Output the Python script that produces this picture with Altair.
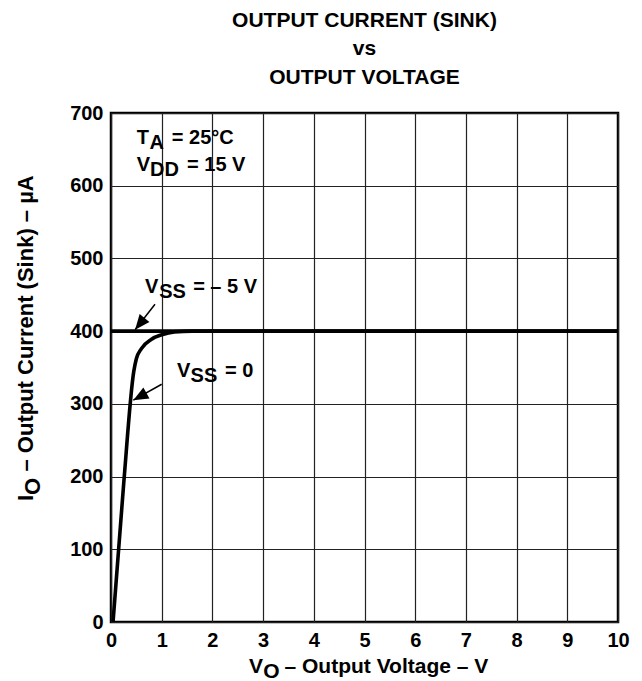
import altair as alt
import pandas as pd

# ---------------- data ----------------
x_ticks = [0, 1, 2, 3, 4, 5, 6, 7, 8, 9, 10]
y_ticks = [0, 100, 200, 300, 400, 500, 600, 700]

# V_SS = 0 curve (output voltage V, sink current uA)
vss0_v = [0.04, 0.25, 0.45, 0.50, 0.60, 0.80, 1.00, 1.25, 1.60, 2.0, 10.0]
vss0_i = [0, 190, 345, 362, 376, 389, 395, 399, 400, 400, 400]
# V_SS = -5 V curve
vss5_v = [0.0, 10.0]
vss5_i = [400, 400]

title_lines = ["OUTPUT CURRENT (SINK)", "vs", "OUTPUT VOLTAGE"]

# in-plot annotation pieces (main text and subscripts)
ann_text = ["T", "A", "= 25°C", "V", "DD", "= 15 V",
            "V", "SS", "= – 5 V", "V", "SS", "= 0"]
ann_v = [0.507, 0.76, 1.20, 0.507, 0.77, 1.50,
         0.67, 0.95, 1.62, 1.30, 1.57, 2.25]
ann_i = [658, 650, 658, 620, 613, 620,
         452, 445, 452, 337, 330.5, 337]

# arrows: tail -> tip
arr_tail_v = [0.868, 1.00]
arr_tail_i = [437, 327]
arr_tip_v = [0.475, 0.44]
arr_tip_i = [402, 305]
arr_angle = [219, 241]

FONT = "Liberation Sans"

x_scale = alt.Scale(domain=[0, 10], nice=False, zero=False)
y_scale = alt.Scale(domain=[0, 700], nice=False, zero=False)
x_axis = alt.Axis(values=x_ticks, title=None, grid=True, ticks=False,
                  domain=False, labelPadding=8, format="d", labelFlush=False)
y_axis = alt.Axis(values=y_ticks, title=None, grid=True, ticks=False,
                  domain=False, labelPadding=8, format="d", labelFlush=False)


def X(field):
    return alt.X(field, type="quantitative", scale=x_scale, axis=x_axis)


def Y(field):
    return alt.Y(field, type="quantitative", scale=y_scale, axis=y_axis)


curves = pd.DataFrame({
    "v": vss0_v + vss5_v,
    "i": vss0_i + vss5_i,
    "s": ["VSS=0"] * len(vss0_v) + ["VSS=-5"] * len(vss5_v),
})

base = alt.Chart(curves).mark_line(
    color="black", strokeWidth=3.6, interpolate="monotone", strokeCap="butt"
).encode(x=X("v"), y=Y("i"), detail="s:N")

ann_df = pd.DataFrame({"t": ann_text, "v": ann_v, "i": ann_i})
ann = alt.Chart(ann_df).mark_text(
    font=FONT, fontWeight="bold", fontSize=20, align="left",
    baseline="alphabetic", color="black"
).encode(x=X("v"), y=Y("i"), text="t:N")

arr_df = pd.DataFrame({
    "v": arr_tail_v, "i": arr_tail_i,
    "v2": arr_tip_v, "i2": arr_tip_i, "a": arr_angle,
})
arr_lines = alt.Chart(arr_df).mark_rule(color="black", strokeWidth=1.5).encode(
    x=X("v"), y=Y("i"), x2="v2:Q", y2="i2:Q",
)
arr_heads = alt.Chart(arr_df).mark_point(
    shape="M0,0L-0.42,1L0.42,1Z", filled=True, color="black", opacity=1,
    size=900, strokeWidth=0
).encode(x=X("v2"), y=Y("i2"), angle=alt.Angle("a:Q", scale=None))

layers = [base, arr_lines, arr_heads, ann]

# title lines (pixel positions relative to plot area)
title_y = [-86, -58, -29]
for line, ty in zip(title_lines, title_y):
    layers.append(
        alt.Chart(pd.DataFrame({"t": [line]})).mark_text(
            font=FONT, fontWeight="bold", fontSize=21, align="center",
            baseline="alphabetic", color="black"
        ).encode(text="t:N", x=alt.value(253.5), y=alt.value(ty))
    )

# x-axis title with subscript
xt_pieces = [("V", 138, 560), ("O", 152.3, 565), ("– Output Voltage – V", 173.5, 560)]
for t, px, py in xt_pieces:
    layers.append(
        alt.Chart(pd.DataFrame({"t": [t]})).mark_text(
            font=FONT, fontWeight="bold", fontSize=21, align="left",
            baseline="alphabetic", color="black"
        ).encode(text="t:N", x=alt.value(px), y=alt.value(py))
    )

# y-axis title (rotated) with subscript
yt_pieces = [("I", -77.7, 388), ("O", -71.5, 381.9), ("– Output Current (Sink) – µA", -77.7, 358.5)]
for t, px, py in yt_pieces:
    layers.append(
        alt.Chart(pd.DataFrame({"t": [t]})).mark_text(
            font=FONT, fontWeight="bold", fontSize=22, align="left",
            baseline="alphabetic", color="black", angle=270
        ).encode(text="t:N", x=alt.value(px), y=alt.value(py))
    )

chart = alt.layer(*layers).properties(
    width=507, height=509,
    padding={"left": 103, "top": 105, "right": 16, "bottom": 59},
    autosize=alt.AutoSizeParams(type="none"),
).configure_view(
    stroke="black", strokeWidth=2.5
).configure_axis(
    labelFont=FONT, labelFontWeight="bold", labelFontSize=20, labelColor="black",
    gridColor="#222222", gridWidth=1.2, gridOpacity=1,
)

chart.save("out.html", embed_options={"renderer": "svg", "actions": False})
